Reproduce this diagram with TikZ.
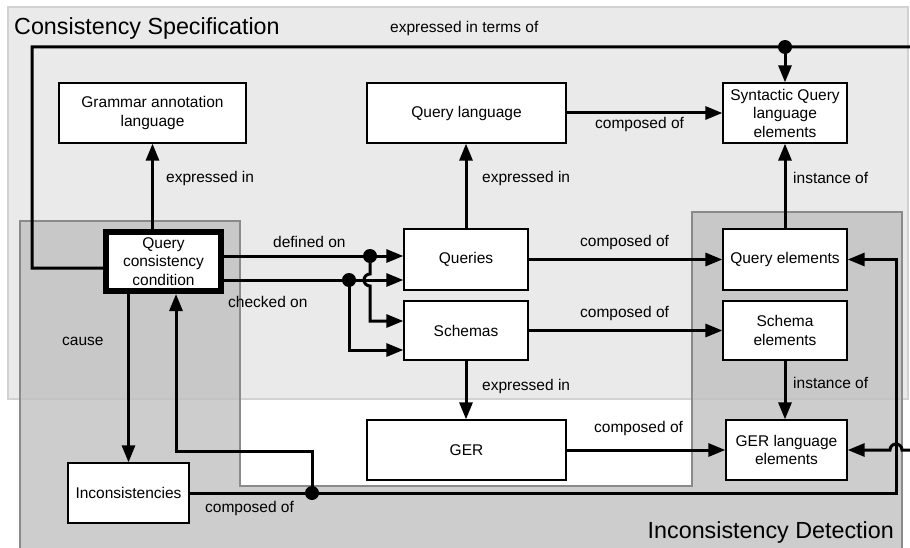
\documentclass[tikz,border=0pt]{standalone}
\usepackage{fontspec}
\setmainfont{Liberation Sans}
\usetikzlibrary{arrows.meta}
\definecolor{specgray}{HTML}{EAEAEA}
\definecolor{specline}{HTML}{D2D2D2}
\definecolor{detgray}{HTML}{C0C0C0}
\definecolor{detline}{HTML}{8A8A8A}
\begin{document}
\begin{tikzpicture}[x=1pt,y=-1pt,>={Triangle[length=17pt,width=13pt]},
    box/.style={draw,line width=1.3pt,fill=white,align=center,inner sep=0pt,
        minimum height=60pt,font=\fontsize{15.5}{18.5}\selectfont},
    lbl/.style={anchor=west,inner sep=0pt,font=\fontsize{15.5}{18.5}\selectfont},
    title/.style={inner sep=0pt,font=\fontsize{23.3}{26}\selectfont},
    conn/.style={line width=3pt}]
\useasboundingbox (0,0) rectangle (910,548);
\clip (0,0) rectangle (910,548);
% the two areas
\draw[specline,fill=specgray,line width=1.5pt] (8,7) rectangle (908,399);
\draw[detline,fill=detgray,fill opacity=0.8,line width=1.5pt]
    (20,221) -- (240,221) -- (240,486) -- (692,486) -- (692,212)
    -- (902,212) -- (902,570) -- (20,570) -- cycle;
\node[title,anchor=base west] (spec) at (14,35) {Consistency Specification};
\node[title,anchor=base east] (det) at (894,538) {Inconsistency Detection};

% boxes
\node[box,minimum width=187] (gal) at (152.5,113) {Grammar annotation\\language};
\node[box,minimum width=199] (ql) at (466.5,113) {Query language};
\node[box,minimum width=124] (syn) at (785,113) {Syntactic Query\\language\\elements};
\node[box,minimum width=115,minimum height=59,line width=6pt] (qcc) at (163.5,261.5) {Query\\consistency\\condition};
\node[box,minimum width=124,minimum height=61] (qu) at (466,259.5) {Queries};
\node[box,minimum width=124,minimum height=59] (sch) at (466,330.5) {Schemas};
\node[box,minimum width=124,minimum height=61] (qe) at (785,259.5) {Query elements};
\node[box,minimum width=124,minimum height=59] (se) at (785,330.5) {Schema\\elements};
\node[box,minimum width=199] (ger) at (466.5,450) {GER};
\node[box,minimum width=121] (gle) at (786.5,450) {GER language\\elements};
\node[box,minimum width=121] (inc) at (128.5,493) {Inconsistencies};

% junctions
\coordinate (j1) at (785,47);
\coordinate (d1) at (370,256);
\coordinate (d2) at (349,280);
\coordinate (j3) at (312,493);
\coordinate (k) at (176,451);

% connectors
\draw[conn,->] (qcc.west |- 0,268) -| (32,47) -- (925,47) |- (902,450)
    arc[start angle=0,end angle=-180,radius=6] -- (gle.east);
\draw[conn,->] (j1) -- (syn.north);
\draw[conn,->] (qcc.north -| gal.south) -- (gal.south);
\draw[conn,->] (qcc.east |- d1) -- (qu.west |- d1);
\draw[conn,->] (qcc.east |- d2) -- (qu.west |- d2);
\draw[conn,->] (d1) -- (370,274) arc[start angle=270,end angle=90,radius=6]
    -- (370,321) -- (sch.west |- 0,321);
\draw[conn,->] (d2) |- (sch.west |- 0,350);
\draw[conn,->] (qu.north) -- (qu.north |- ql.south);
\draw[conn,->] (ql.east) -- (syn.west);
\draw[conn,->] (qe.north) -- (syn.south);
\draw[conn,->] (qu.east) -- (qe.west);
\draw[conn,->] (sch.east) -- (se.west);
\draw[conn,->] (sch.south) -- (sch.south |- ger.north);
\draw[conn,->] (se.south) -- (se.south |- gle.north);
\draw[conn,->] (ger.east) -- (gle.west);
\draw[conn,->] (qcc.south -| inc.north) -- (inc.north);
\draw[conn,->] (inc.east) -- (896,493) |- (qe.east);
\draw[conn,->] (j3) |- (k) -- (k |- qcc.south);
\foreach \j in {j1,d1,d2,j3}
{
    \fill (\j) circle (7);
}

% labels
\node[lbl,anchor=base west] (terms) at (390,33) {expressed in terms of};
\foreach \nm/\x/\y/\txt in {la/166/178/expressed in, lb/273/242/defined on,
    lc/228/302/checked on, ld/62/341/cause, le/205/508/composed of,
    lf/482/178/expressed in, lg/595/124/composed of, lh/793/178/instance of,
    li/580/242/composed of, lj/580/313/composed of, lk/482/386/expressed in,
    ll/793/383/instance of, lm/594/428/composed of}
{
    \node[lbl] (\nm) at (\x,\y) {\txt};
}
\end{tikzpicture}
\end{document}
